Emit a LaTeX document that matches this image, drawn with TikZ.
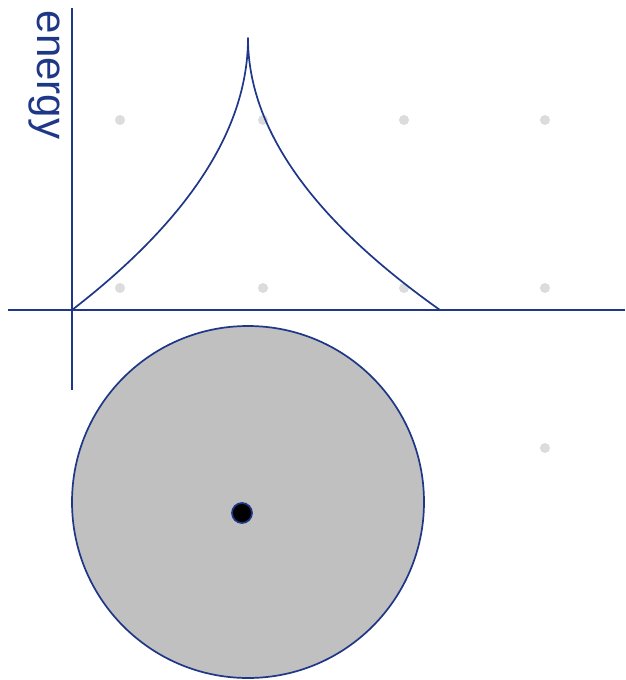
\documentclass[tikz,border=0pt]{standalone}
\usepackage{fontspec}
\setsansfont{Liberation Sans}
\usepackage{tikz}
\usetikzlibrary{calc}
\definecolor{axisblue}{RGB}{30,55,135}
\definecolor{dotgray}{RGB}{220,220,220}
\definecolor{diskgray}{RGB}{192,192,192}
\tikzset{
  curveline/.style={axisblue,line width=1.7pt,line join=round},
  griddot/.style={fill=dotgray,draw=none},
}

\begin{document}
\begin{tikzpicture}[x=1pt,y=1pt]
  \useasboundingbox (-72,-370) rectangle (553,310);
  % grid dots
  \foreach \gx in {48,191,332,473}
    \foreach \gy in {22,190}
      \fill[griddot] (\gx,\gy) circle (5);
  \fill[griddot] (473,-138) circle (5);
  % axes
  \draw[curveline] (0,302) -- (0,-80);
  \draw[curveline] (-64,0) -- (553,0);
  \node[axisblue,font=\sffamily\fontsize{42}{48}\selectfont,rotate=-90] (elabel) at (-28,235) {energy};
  % energy curve, cusp at the peak
  \draw[curveline] plot[domain=13.2665:0,samples=60,smooth] ({176-\x*\x},{272-20.503*\x})
    -- plot[domain=0:13.8564,samples=60,smooth] ({176+\x*\x},{272-19.630*\x});
  % disk
  \draw[curveline,fill=diskgray] (176,-192) circle (176);
  \draw[curveline,fill=black] (170,-203) circle (10);
\end{tikzpicture}
\end{document}
